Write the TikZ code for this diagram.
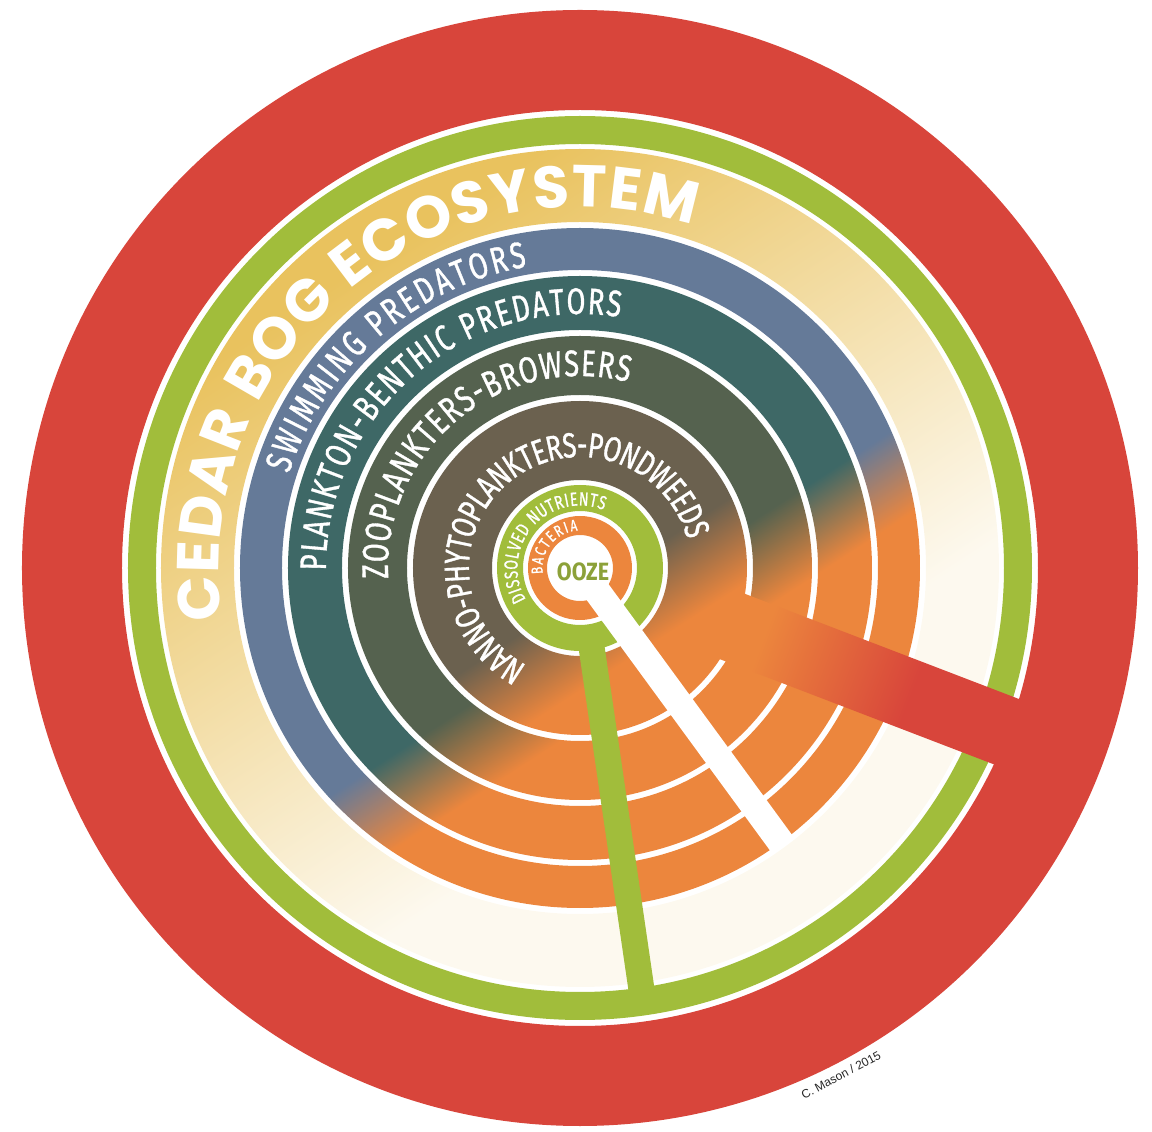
\documentclass[tikz,border=0pt]{standalone}
\usepackage{fontspec}
\usetikzlibrary{decorations.text}

\setsansfont{Liberation Sans}
\newfontfamily\cedarfont{Poppins}
\newfontfamily\ringfont[FakeStretch=0.74, FakeBold=1]{Fira Sans}
\newfontfamily\oozefont[FakeStretch=0.86]{Fira Sans}

\definecolor{bogred}{HTML}{D8453B}
\definecolor{boggreen}{HTML}{A1BD3B}
\definecolor{bogorange}{HTML}{EC863D}
\definecolor{bogyellow}{HTML}{E9C25E}
\definecolor{bogcream}{HTML}{FDF9EF}
\definecolor{swimblue}{HTML}{657A98}
\definecolor{benthteal}{HTML}{3E6866}
\definecolor{zoogreen}{HTML}{55624F}
\definecolor{phytobrown}{HTML}{6B614F}
\definecolor{oozegreen}{HTML}{8CA139}
\colorlet{ringcol}{swimblue}

% fades: ring colour -> orange, yellow -> cream, orange -> red (spoke)
\pgfdeclarehorizontalshading[ringcol]{ringfade}{100bp}{%
  color(0bp)=(ringcol); color(52.9bp)=(ringcol); color(57.2bp)=(bogorange); color(100bp)=(bogorange)}
\pgfdeclarehorizontalshading{phytofade}{100bp}{%
  color(0bp)=(phytobrown); color(51.2bp)=(phytobrown); color(55.5bp)=(bogorange); color(100bp)=(bogorange)}
\pgfdeclarehorizontalshading{bandfade}{100bp}{%
  color(0bp)=(bogyellow); color(30bp)=(bogyellow); color(61bp)=(bogcream); color(100bp)=(bogcream)}
\pgfdeclarehorizontalshading{barfade}{100bp}{%
  color(0bp)=(bogorange); color(60.5bp)=(bogorange); color(69bp)=(bogred); color(100bp)=(bogred)}

\newcommand\cedartype{\cedarfont\bfseries\fontsize{59}{62}\selectfont}
\newcommand\ringtype{\ringfont\fontsize{37}{40}\selectfont}

% ring between two radii, shaded towards the lower right
\newcommand\fadering[4]{%
  \begin{scope}[even odd rule]
    \colorlet{ringcol}{#3}
    \clip (0,0) circle (#2) (0,0) circle (#1);
    \shade[shading=#4, shading angle=-57] (-470,-470) rectangle (470,470);
  \end{scope}}

\begin{document}
\begin{tikzpicture}[
    x=1pt, y=1pt,
    band/.style={even odd rule},
    spoke/.style={line cap=butt},
    label on arc/.style 2 args={
        decorate,
        decoration={text along path, text color=white,
            text align={fit to path}, raise=#1, text={#2}},
    },
]
\useasboundingbox (-580,-564) rectangle (572,568);

% outer rings
\fill[bogred, band]   (0,0) circle (558) circle (458);
\fill[boggreen, band] (0,0) circle (452) circle (424);

% levels, outside in
\fadering{346}{419}{bogyellow}{bandfade}
\fadering{298}{340}{swimblue}{ringfade}
\fadering{238}{292}{benthteal}{ringfade}
\fadering{173}{232}{zoogreen}{ringfade}
\fadering{88}{167}{phytobrown}{phytofade}

% centre
\fill[boggreen, band]  (0,0) circle (83) circle (57);
\fill[bogorange, band] (0,0) circle (52) circle (33);

% spokes
\begin{scope}
    \clip (339:160) ++(69:35) -- ++(339:310) -- ++(249:70) -- ++(159:310) -- cycle;
    \shade[shading=barfade, shading angle=-21] (-470,-470) rectangle (470,470);
\end{scope}
\draw[spoke, boggreen, line width=26pt] (278.3:70) -- (278.3:440);
\draw[spoke, white, line width=27pt] (306.2:20) -- (306.2:343);

% ring labels
\path[label on arc={-20pt}{|\cedartype|CEDAR BOG ECOSYSTEM}]
    (188:381) arc[start angle=188, end angle=72, radius=381];
\path[label on arc={-13pt}{|\ringtype|SWIMMING PREDATORS}]
    (162:319) arc[start angle=162, end angle=100, radius=319];
\path[label on arc={-13pt}{|\ringtype|PLANKTON-BENTHIC PREDATORS}]
    (180.5:267) arc[start angle=180.5, end angle=81, radius=267];
\path[label on arc={-13pt}{|\ringtype|ZOOPLANKTERS-BROWSERS}]
    (183:205) arc[start angle=183, end angle=75.5, radius=205];
\path[label on arc={-12pt}{|\ringfont\fontsize{35}{38}\selectfont|NANNO-PHYTOPLANKTERS-PONDWEEDS}]
    (241:123) arc[start angle=241, end angle=15, radius=123];
\path[label on arc={-6.5pt}{|\ringfont\fontsize{19}{21}\selectfont|DISSOLVED NUTRIENTS}]
    (210:69) arc[start angle=210, end angle=68, radius=69];
\path[label on arc={-5.5pt}{|\ringfont\fontsize{16}{18}\selectfont|BACTERIA}]
    (188:43) arc[start angle=188, end angle=94, radius=43];

\node[font=\oozefont\bfseries\fontsize{25}{28}\selectfont, text=oozegreen] (ooze) at (3,-4) {OOZE};
\node[font=\sffamily\fontsize{12}{14}\selectfont, text=black!85, rotate=28] (credit) at (261,-507) {C. Mason / 2015};

\end{tikzpicture}
\end{document}
